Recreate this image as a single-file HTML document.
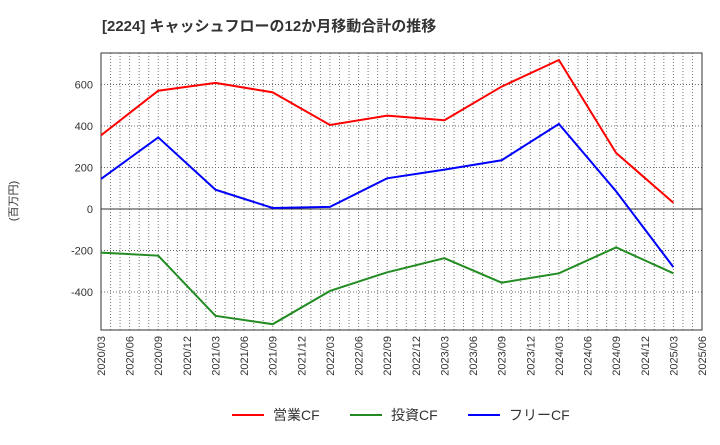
<!DOCTYPE html>
<html><head><meta charset="utf-8"><style>
body{margin:0;background:#fff;font-family:"Liberation Sans","Noto Sans CJK JP",sans-serif}
</style></head><body>
<svg width="720" height="440" id="c" xmlns="http://www.w3.org/2000/svg" font-family="Liberation Sans, Noto Sans CJK JP, sans-serif">
<text x="102" y="31" font-size="15" font-weight="bold" fill="#333">[2224]  キャッシュフローの12か月移動合計の推移</text>
<text transform="translate(17,201) rotate(-90)" font-size="11" fill="#333" text-anchor="middle">(百万円)</text>
<g id="grid"></g><g id="axes"></g><g id="lines"></g>
<g font-size="14" fill="#333">
<line x1="232" y1="415" x2="264" y2="415" stroke="#ff0000" stroke-width="2"/><text x="273" y="420">営業CF</text>
<line x1="350" y1="415" x2="382" y2="415" stroke="#228b22" stroke-width="2"/><text x="391" y="420">投資CF</text>
<line x1="468" y1="415" x2="500" y2="415" stroke="#0000ff" stroke-width="2"/><text x="509" y="420">フリーCF</text>
</g>
</svg>
<script>
const xLabels=["2020/03","2020/06","2020/09","2020/12","2021/03","2021/06","2021/09","2021/12","2022/03","2022/06","2022/09","2022/12","2023/03","2023/06","2023/09","2023/12","2024/03","2024/06","2024/09","2024/12","2025/03","2025/06"];
const pointIdx=[0,2,4,6,8,10,12,14,16,18,20];
const operating=[355,570,608,562,405,450,428,590,718,270,30];
const investing=[-210,-225,-515,-555,-395,-305,-237,-355,-310,-185,-310];
const free=[145,345,93,5,10,148,190,235,410,85,-280];
const yTicks=[-400,-200,0,200,400,600];
const L=101,R=702,T=53,B=330;
const xs=i=>L+i*(R-L)/21;
const ys=v=>209-v*41.5/200;
const NS="http://www.w3.org/2000/svg";
function mk(tag,attrs,parent,txt){const e=document.createElementNS(NS,tag);for(const k in attrs)e.setAttribute(k,attrs[k]);if(txt!=null)e.textContent=txt;document.getElementById(parent).appendChild(e);return e;}
for(let m=1;m<63;m++){const x=L+m*(R-L)/63;
const g=mk('line',{x1:x,x2:x,y1:T,y2:B,stroke:'#777','stroke-dasharray':'1,2','stroke-width':1},'grid');

}
yTicks.forEach(v=>{const y=ys(v);
const g=mk('line',{x1:L,x2:R,y1:y,y2:y,stroke:'#666','stroke-dasharray':'1,2'},'grid');


const t=mk('text',{x:L-8,y:y+4,'text-anchor':'end','font-size':11,fill:'#333'},'axes',v);

});
const z=mk('line',{x1:L,x2:R,y1:ys(0),y2:ys(0),stroke:'#333','stroke-width':1},'axes');


const fr=mk('rect',{x:L,y:T,width:R-L,height:B-T,fill:'none',stroke:'#333'},'axes');


xLabels.forEach((s,i)=>{const x=xs(i);
const t=mk('text',{transform:`translate(${x+4},${B+6}) rotate(-90)`,'text-anchor':'end','font-size':11,fill:'#333'},'axes',s);

});
[[operating,'#ff0000','operating-cf-line'],[investing,'#228b22','investing-cf-line'],[free,'#0000ff','free-cf-line']].forEach(([d,c,n])=>{
const p=mk('polyline',{points:d.map((v,i)=>xs(pointIdx[i])+','+ys(v)).join(' '),fill:'none',stroke:c,'stroke-width':2},'lines');

});
</script>
</body></html>
